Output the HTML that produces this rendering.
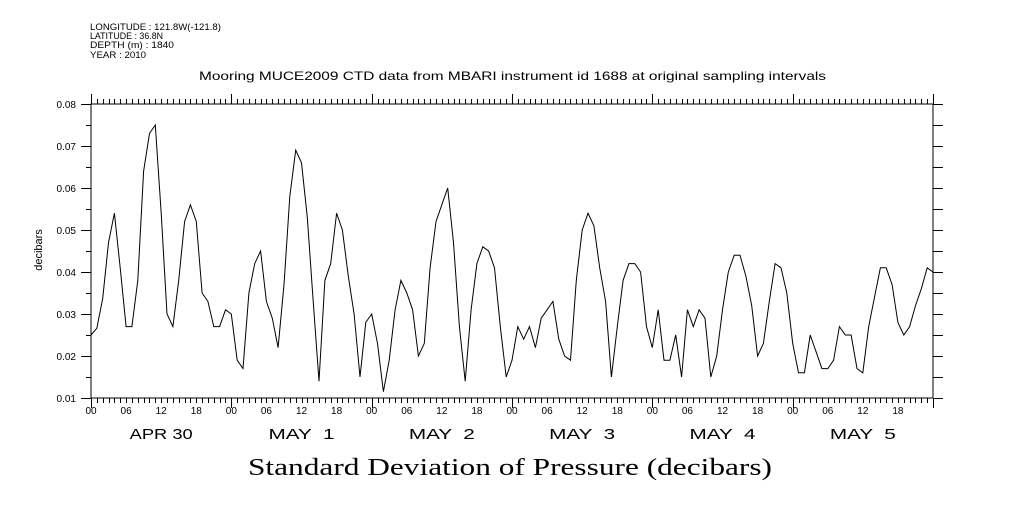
<!DOCTYPE html>
<html><head><meta charset="utf-8"><style>
body{margin:0;background:#fff;}
svg text{font-family:"Liberation Sans",sans-serif;fill:#000;}
</style></head><body>
<svg id="chart" width="1009" height="504" xmlns="http://www.w3.org/2000/svg">
<g font-size="9">
<text x="90" y="30" textLength="131" lengthAdjust="spacingAndGlyphs">LONGITUDE : 121.8W(-121.8)</text>
<text x="90" y="39" textLength="73" lengthAdjust="spacingAndGlyphs">LATITUDE : 36.8N</text>
<text x="90" y="48" textLength="84" lengthAdjust="spacingAndGlyphs">DEPTH (m) : 1840</text>
<text x="90" y="58" textLength="56" lengthAdjust="spacingAndGlyphs">YEAR : 2010</text>
</g>
<text x="199" y="80" font-size="12" textLength="627" lengthAdjust="spacingAndGlyphs">Mooring MUCE2009 CTD data from MBARI instrument id 1688 at original sampling intervals</text>
<text x="248" y="475" font-size="24" textLength="524" lengthAdjust="spacingAndGlyphs" style="font-family:'Liberation Serif',serif">Standard Deviation of Pressure (decibars)</text>
<text x="42" y="250" font-size="11" text-anchor="middle" transform="rotate(-90 42 250)">decibars</text>
<rect x="91" y="104" width="842" height="294" fill="none" stroke="#000" stroke-width="1"/>
<g id="axes"></g>
<path id="series" fill="none" stroke="#000" stroke-width="1"/>
</svg>
<script>
const values=[0.025,0.0266,0.0337,0.047,0.054,0.041,0.027,0.027,0.038,0.064,0.073,0.075,0.054,0.030,0.027,0.038,0.052,0.056,0.052,0.035,0.033,0.027,0.027,0.031,
0.030,0.019,0.017,0.035,0.042,0.045,0.033,0.029,0.022,0.037,0.058,0.069,0.066,0.053,0.033,0.014,0.038,0.042,0.054,0.050,0.039,0.030,0.015,0.028,
0.030,0.023,0.0115,0.019,0.031,0.038,0.035,0.031,0.020,0.023,0.041,0.052,0.056,0.060,0.047,0.027,0.014,0.031,0.042,0.046,0.045,0.041,0.027,0.015,
0.019,0.027,0.024,0.027,0.022,0.029,0.031,0.033,0.024,0.020,0.019,0.038,0.050,0.054,0.051,0.041,0.033,0.015,0.027,0.038,0.042,0.042,0.040,0.027,
0.022,0.031,0.019,0.019,0.025,0.015,0.031,0.027,0.031,0.029,0.015,0.020,0.031,0.040,0.044,0.044,0.039,0.032,0.020,0.023,0.033,0.042,0.041,0.035,
0.023,0.016,0.016,0.025,0.021,0.017,0.017,0.019,0.027,0.025,0.025,0.017,0.016,0.027,0.034,0.041,0.041,0.037,0.028,0.025,0.027,0.032,0.036,0.041,0.040];
const dayLabels=["APR 30","MAY  1","MAY  2","MAY  3","MAY  4","MAY  5"];
const hourLabels=["00","06","12","18"];
const yTicks=[0.01,0.02,0.03,0.04,0.05,0.06,0.07,0.08];
const X0=91,X1=933,Y0=398,Y1=104,HOURS=144,VMIN=0.01,VMAX=0.08;
function xs(h){return X0+(X1-X0)*h/HOURS;}
function ys(v){return Y0-(Y0-Y1)*(v-VMIN)/(VMAX-VMIN);}
const NS="http://www.w3.org/2000/svg";
const ax=document.getElementById('axes');
function line(x1,y1,x2,y2,name){const l=document.createElementNS(NS,'line');l.setAttribute('x1',x1);l.setAttribute('y1',y1);l.setAttribute('x2',x2);l.setAttribute('y2',y2);l.setAttribute('stroke','#000');


ax.appendChild(l);}
function text(x,y,s,size,anchor,name,len){const t=document.createElementNS(NS,'text');t.setAttribute('x',x);t.setAttribute('y',y);t.setAttribute('font-size',size);t.setAttribute('text-anchor',anchor);t.style.whiteSpace='pre';t.textContent=s;
if(len){t.setAttribute('textLength',len);t.setAttribute('lengthAdjust','spacingAndGlyphs');}


ax.appendChild(t);}
for(let h=0;h<=HOURS;h++){const x=Math.round(xs(h))+0.5;const major=h%24===0;
line(x,Y1,x,Y1-(major?10:5),'top-tick');
line(x,Y0,x,Y0+(major?10:5),'bottom-tick');
if(h%6===0&&h<HOURS)text(xs(h),414,hourLabels[(h/6)%4],10,'middle','x-tick-label');}
dayLabels.forEach((d,i)=>text(xs(i*24+12),439,d,15,'middle','day-label',i===0?63:66));
for(let v=VMIN;v<=VMAX+1e-9;v+=0.005){const y=Math.round(ys(v))+0.5;
const major=Math.abs(Math.round(v*100)-v*100)<1e-6;
line(X0,y,X0-(major?10:5),y,'y-tick-left');
line(X1,y,X1+10,y,'y-tick-right');}
yTicks.forEach(v=>text(76,ys(v)+4,v.toFixed(2),10,'end','y-tick-label'));
let d='';values.forEach((v,i)=>{d+=(i?'L':'M')+xs(i).toFixed(1)+' '+ys(v).toFixed(1);});
document.getElementById('series').setAttribute('d',d);
</script>
</body></html>
